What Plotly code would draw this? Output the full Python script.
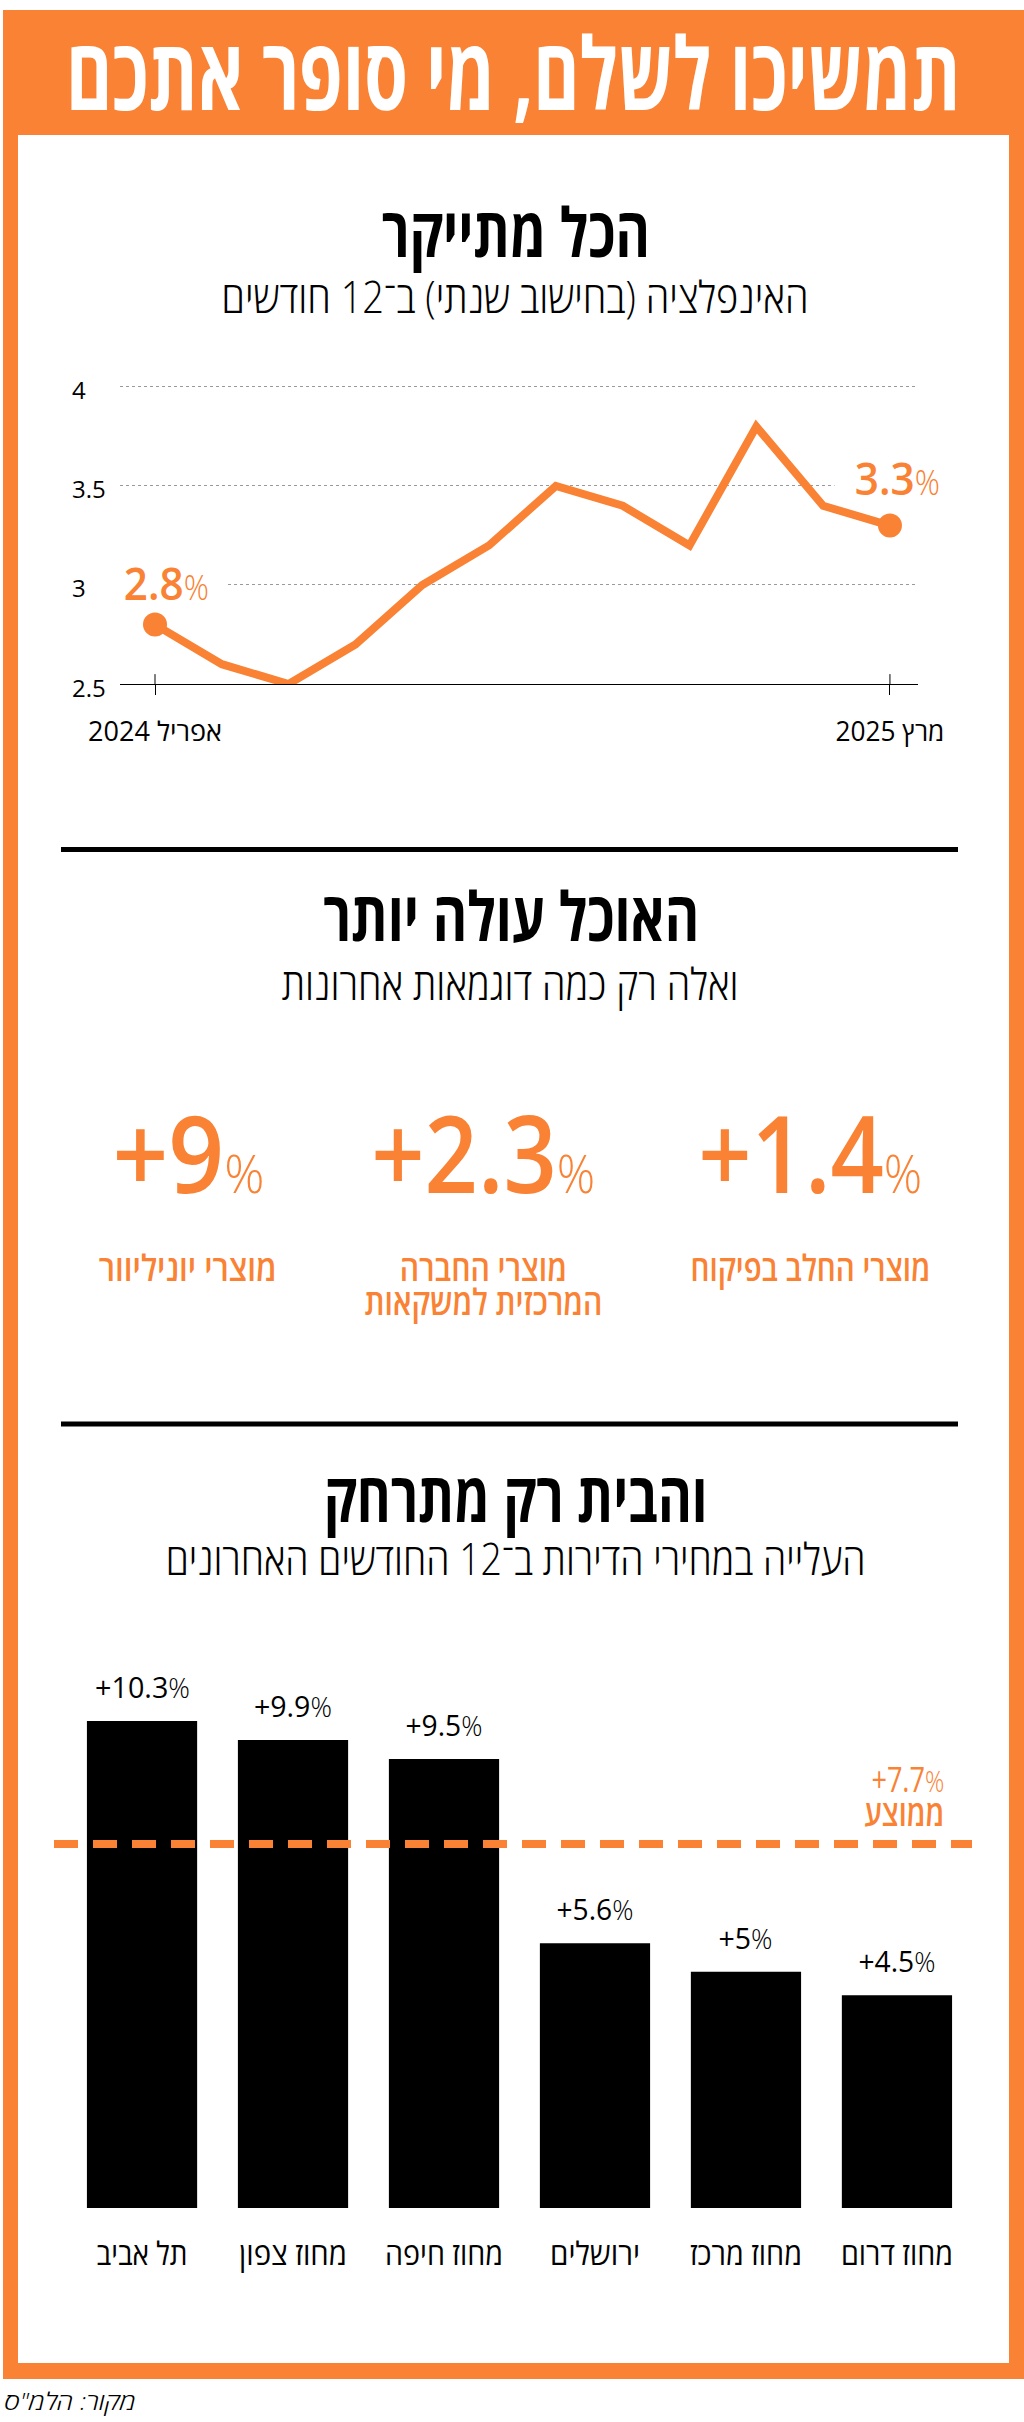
import json
import plotly.graph_objects as go

# ---------- data ----------
cpi_months = list(range(12))
cpi_values = [2.8, 2.6, 2.5, 2.7, 3.0, 3.2, 3.5, 3.4, 3.2, 3.8, 3.4, 3.3]
cpi_ytick_vals = [2.5, 3, 3.5, 4]
cpi_ytick_text = ["2.5", "3", "3.5", "4"]
cpi_xtick_vals = [0, 11]
cpi_xtick_text = ["אפריל 2024", "מרץ 2025"]

food_values = ["+9", "+2.3", "+1.4"]
food_labels = ["מוצרי יוניליוור", "מוצרי החברה<br>המרכזית למשקאות", "מוצרי החלב בפיקוח"]

regions = ["תל אביב", "מחוז צפון", "מחוז חיפה", "ירושלים", "מחוז מרכז", "מחוז דרום"]
home_values = [10.3, 9.9, 9.5, 5.6, 5.0, 4.5]
home_text = ["+10.3", "+9.9", "+9.5", "+5.6", "+5", "+4.5"]
home_avg = 7.7

ORANGE = "#F98234"
FONT = "Open Sans"
W, H = 1024, 2422
PX = lambda v: v / W
PY = lambda v: 1 - v / H

widths = {}
annotations = []


def pct(num, size):
    return f"{num}<span style='font-size:{size}px;font-weight:300'>%</span>"


def label(text, x, y, size, color="#000", weight=400, width=None, align="center", style="normal"):
    annotations.append(dict(
        text=text, x=PX(x), y=PY(y), xref="paper", yref="paper", xanchor="center", yanchor="middle",
        showarrow=False, align=align,
        font=dict(family=FONT, size=size, color=color, weight=weight, style=style),
    ))
    if width:
        widths[text] = width


fig = go.Figure()

# ---------- line chart ----------
fig.add_trace(go.Scatter(
    x=cpi_months, y=cpi_values, mode="lines", cliponaxis=False, showlegend=False, hoverinfo="skip",
    line=dict(color=ORANGE, width=8, shape="linear"), xaxis="x", yaxis="y",
))
fig.add_trace(go.Scatter(
    x=[cpi_months[0], cpi_months[-1]], y=[cpi_values[0], cpi_values[-1]], mode="markers",
    cliponaxis=False, showlegend=False, hoverinfo="skip",
    marker=dict(color=ORANGE, size=24), xaxis="x", yaxis="y",
))

# ---------- bars ----------
fig.add_trace(go.Bar(
    x=regions, y=home_values, width=0.73, marker=dict(color="#000", line=dict(width=0)),
    showlegend=False, hoverinfo="skip", xaxis="x2", yaxis="y2",
))

# ---------- frame and rules ----------
shapes = [
    dict(type="rect", xref="paper", yref="paper", x0=PX(3), x1=1, y0=PY(10), y1=PY(2379),
         fillcolor=ORANGE, line=dict(width=0), layer="below"),
    dict(type="rect", xref="paper", yref="paper", x0=PX(18), x1=PX(1009), y0=PY(135), y1=PY(2363),
         fillcolor="#fff", line=dict(width=0), layer="below"),
]
for ry in (849.5, 1424):
    shapes.append(dict(type="line", xref="paper", yref="paper", x0=PX(61), x1=PX(958), y0=PY(ry), y1=PY(ry),
                       line=dict(color="#000", width=5)))
# masks that interrupt gridlines behind the two line labels
shapes.append(dict(type="rect", xref="x", yref="y", x0=-0.6, x1=1.08, y0=2.95, y1=3.05,
                   fillcolor="#fff", line=dict(width=0), layer="between"))
shapes.append(dict(type="rect", xref="x", yref="y", x0=10.17, x1=11.5, y0=3.45, y1=3.55,
                   fillcolor="#fff", line=dict(width=0), layer="between"))
# upper half of the crossing axis ticks
for t in cpi_xtick_vals:
    shapes.append(dict(type="line", xref="x", yref="y", x0=t, x1=t, y0=2.5, y1=2.55,
                       line=dict(color="#000", width=1)))
# average line
shapes.append(dict(type="line", xref="x2 domain", yref="y2", x0=0, x1=1, y0=home_avg, y1=home_avg,
                   line=dict(color=ORANGE, width=8, dash="24px,15px"), layer="above"))

# ---------- texts ----------
label("תמשיכו לשלם, מי סופר אתכם", 513, 71, 100, "#fff", 700, 895)

label("הכל מתייקר", 516, 230, 68, "#000", 700, 268)
label("האינפלציה (בחישוב שנתי) ב־12 חודשים", 515, 296, 44, "#000", 300, 587)

label("האוכל עולה יותר", 511, 914, 68, "#000", 700, 376)
label("ואלה רק כמה דוגמאות אחרונות", 510, 983, 44, "#000", 300, 457)

food_cx = [188, 483, 810]
food_w = [152, 224, 224]
food_lab_w = [178, 238, 240]
food_lab_y = [1267, 1284, 1267]
for cx, val, lab, fw, lw, ly in zip(food_cx, food_values, food_labels, food_w, food_lab_w, food_lab_y):
    label(pct(val, 54), cx, 1152, 106, ORANGE, 600, fw)
    styled = f"<span style='font-size:36px'>{lab.replace('<br>', '</span><br><span style=\"font-size:36px\">')}</span>"
    label(styled, cx, ly, 26, ORANGE, 600, lw)

label("והבית רק מתרחק", 515, 1496, 68, "#000", 700, 384)
label("העלייה במחירי הדירות ב־12 החודשים האחרונים", 515, 1558, 44, "#000", 300, 700)

avg_text = (f"<span style='font-size:34px;font-weight:400'>+{home_avg}"
            f"<span style='font-size:30px;font-weight:300'>%</span></span><br>"
            f"<span style='font-size:36px;font-weight:600'>ממוצע</span>")
label(avg_text, 904, 1796, 26, ORANGE, 400, 80, align="right")
label("מקור: הלמ\"ס", 70, 2400, 24, "#000", 300, 131, style="italic")

# y tick labels of the line chart, left aligned in the reference
for v, t in zip(cpi_ytick_vals, cpi_ytick_text):
    annotations.append(dict(text=t, x=PX(70), xref="paper", y=v, yref="y", yshift=-3, xanchor="left",
                            yanchor="middle", showarrow=False, font=dict(family=FONT, size=24, color="#000")))

# end labels of the line
end_label_w = 85
for idx, xs, ys in ((0, 11, 43), (-1, 8, 49)):
    txt = pct(f"{cpi_values[idx]}", 34)
    widths[txt] = end_label_w
    annotations.append(dict(text=txt, x=cpi_months[idx], y=cpi_values[idx], xref="x", yref="y",
                            xshift=xs, yshift=ys, showarrow=False, yanchor="middle",
                            font=dict(family=FONT, size=46, color=ORANGE, weight=600)))

# bar value labels
bar_label_w = [95, 78, 77, 77, 54, 77]
for r, v, t, bw in zip(regions, home_values, home_text, bar_label_w):
    txt = pct(t, 28)
    widths[txt] = bw
    annotations.append(dict(text=txt, x=r, y=v, xref="x2", yref="y2", yanchor="bottom", yshift=12,
                            showarrow=False, font=dict(family=FONT, size=30, color="#000")))

# ---------- layout ----------
fig.update_layout(
    width=W, height=H, autosize=False, margin=dict(l=0, r=0, t=0, b=0, pad=0),
    paper_bgcolor="#fff", plot_bgcolor="rgba(0,0,0,0)", showlegend=False,
    font=dict(family=FONT), shapes=shapes, annotations=annotations,
    xaxis=dict(domain=[PX(120), PX(918)], range=[-0.524, 11.42], tickmode="array", automargin=False,
               tickvals=cpi_xtick_vals, ticktext=cpi_xtick_text, ticks="outside", ticklen=10, tickwidth=1,
               tickcolor="#000", showline=True, linecolor="#000", linewidth=1, showgrid=False, zeroline=False,
               ticklabelstandoff=14, tickfont=dict(family=FONT, size=27, color="#000", weight=500), anchor="y"),
    yaxis=dict(domain=[PY(684), PY(383)], range=[2.5, 4.02], tickmode="array", tickvals=cpi_ytick_vals,
               automargin=False, showticklabels=False, ticks="", showgrid=True, gridcolor="#9a9a9a", griddash="dot",
               gridwidth=1, zeroline=False, showline=False, anchor="x"),
    xaxis2=dict(domain=[PX(54), PX(972)], range=[-0.583, 5.497], type="category", categoryorder="array",
                automargin=False, categoryarray=regions, ticks="", showgrid=False, zeroline=False, showline=False,
                ticklabelstandoff=24, tickfont=dict(family=FONT, size=32, color="#000", weight=500), anchor="y2"),
    yaxis2=dict(domain=[PY(2208), PY(1688)], range=[0, 11], automargin=False, showticklabels=False, ticks="",
                showgrid=False, zeroline=False, showline=False, anchor="x2"),
)
widths["אפריל 2024"] = 134
widths["מרץ 2025"] = 109
widths.update({"תל אביב": 91, "מחוז צפון": 108, "מחוז חיפה": 118, "ירושלים": 90, "מחוז מרכז": 112, "מחוז דרום": 112})

post = """
document.body.style.margin = '0';
var targets = %s;
document.querySelectorAll('text').forEach(function (el) {
  var key = el.getAttribute('data-unformatted');
  if (!key || !targets[key]) return;
  var b = el.getBBox();
  var s = targets[key] / b.width;
  var cx = b.x + b.width / 2;
  var t = el.getAttribute('transform') || '';
  el.setAttribute('transform', t + ' translate(' + cx + ' 0) scale(' + s + ' 1) translate(' + (-cx) + ' 0)');
});
""" % json.dumps(widths, ensure_ascii=False)

fig.write_html("out.html", post_script=post, config={"displayModeBar": False})
